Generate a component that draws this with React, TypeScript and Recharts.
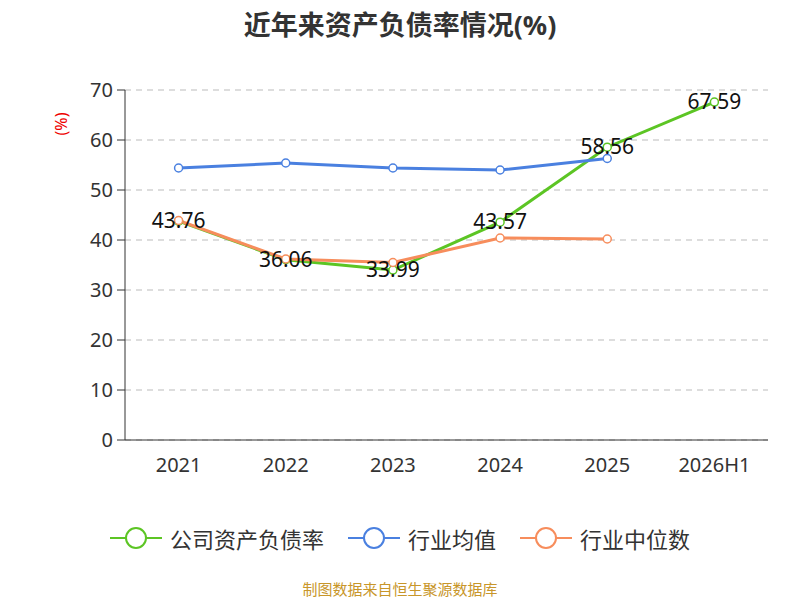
import React from "react";
import { LineChart, Line, XAxis, YAxis, CartesianGrid, LabelList } from "recharts";

const years = ["2021", "2022", "2023", "2024", "2025", "2026H1"];
const company = [43.76, 36.06, 33.99, 43.57, 58.56, 67.59];
const industryMean = [54.4, 55.4, 54.4, 54.0, 56.3, null];
const industryMedian = [43.9, 36.2, 35.5, 40.4, 40.2, null];
const yTicks = [0, 10, 20, 30, 40, 50, 60, 70];

const GREEN = "#5cc524";
const BLUE = "#4a80e0";
const ORANGE = "#f78d5c";
const FONT = "'Noto Sans', 'Noto Sans CJK SC', sans-serif";

const data = years.map((y, i) => ({
  year: y,
  company: company[i],
  mean: industryMean[i],
  median: industryMedian[i],
}));

const legendItems = [
  { name: "公司资产负债率", color: GREEN },
  { name: "行业均值", color: BLUE },
  { name: "行业中位数", color: ORANGE },
];

export default function App() {
  return (
    <div style={{ position: "absolute", left: 0, top: 0, width: 800, height: 600, background: "#fff", fontFamily: FONT }}>
      <div style={{ position: "absolute", top: 4, width: 800, textAlign: "center", fontSize: 27, fontWeight: "bold", color: "#333" }}>
        近年来资产负债率情况(%)
      </div>
      <div style={{ position: "absolute", left: 50, top: 113, transform: "rotate(-90deg)", color: "#e00", fontSize: 16 }}>(%)</div>
      <LineChart width={800} height={600} data={data} margin={{ left: 0, right: 32, top: 90, bottom: 120 }}>
        <CartesianGrid horizontal vertical={false} stroke="#bbb" strokeDasharray="6 5" />
        <XAxis
          dataKey="year"
          scale="band"
          stroke="#333"
          tick={{ fill: "#333", fontSize: 20 }}
          tickLine={false}
          tickMargin={12}
          height={40}
        />
        <YAxis
          domain={[0, 70]}
          ticks={yTicks}
          width={125}
          stroke="#333"
          tick={{ fill: "#333", fontSize: 20 }}
          tickSize={8}
          tickMargin={4}
        />
        <Line dataKey="company" stroke={GREEN} strokeWidth={3} dot={{ r: 4, fill: "#fff", stroke: GREEN, strokeWidth: 1.5 }} isAnimationActive={false} />
        <Line dataKey="mean" stroke={BLUE} strokeWidth={3} dot={{ r: 4, fill: "#fff", stroke: BLUE, strokeWidth: 1.5 }} isAnimationActive={false} />
        <Line dataKey="median" stroke={ORANGE} strokeWidth={3} dot={{ r: 4, fill: "#fff", stroke: ORANGE, strokeWidth: 1.5 }} isAnimationActive={false} />
        <Line dataKey="company" stroke="none" dot={false} activeDot={false} legendType="none" isAnimationActive={false}>
          <LabelList
            dataKey="company"
            content={(p: any) => (
              <text x={p.x} y={p.y + 7} textAnchor="middle" fontSize={21} fill="#111">
                {Number(p.value).toFixed(2)}
              </text>
            )}
          />
        </Line>
      </LineChart>
      <div style={{ position: "absolute", top: 522, left: 0, width: 800, display: "flex", justifyContent: "center", gap: 24, fontSize: 22, color: "#333" }}>
        {legendItems.map((it) => (
          <div key={it.name} style={{ display: "flex", alignItems: "center", gap: 8 }}>
            <svg width={52} height={28}>
              <line x1={0} y1={14} x2={52} y2={14} stroke={it.color} strokeWidth={2} />
              <circle cx={26} cy={14} r={10} fill="#fff" stroke={it.color} strokeWidth={2} />
            </svg>
            <span>{it.name}</span>
          </div>
        ))}
      </div>
      <div style={{ position: "absolute", top: 578, width: 800, textAlign: "center", fontSize: 15, color: "#c8962a" }}>
        制图数据来自恒生聚源数据库
      </div>
    </div>
  );
}
